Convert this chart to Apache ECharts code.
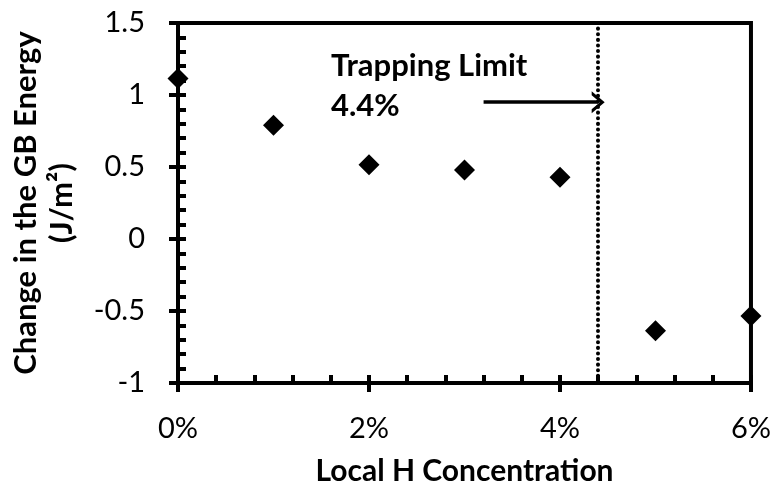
<!DOCTYPE html>
<html>
<head>
<meta charset="utf-8">
<script src="https://cdn.jsdelivr.net/npm/echarts@6/dist/echarts.min.js"></script>
<style>
  html, body { margin: 0; padding: 0; background: #fff; }
  #chart { width: 774px; height: 491px; }
</style>
</head>
<body>
<div id="chart"></div>
<script>
// H concentration (%) and the resulting change in grain-boundary energy (J/m^2)
const concentration = [0, 1, 2, 3, 4, 5, 6];
const energyChange = [1.115, 0.79, 0.516, 0.48, 0.428, -0.638, -0.534];

// Trapping-limit annotation
const trappingLimit = 4.4;
const arrowStart = [3.2, 0.95];
const arrowEnd = [4.4, 0.95];
const annotationText = 'Trapping Limit\n4.4%';

const FONT = 'Lato, "Open Sans", sans-serif';
const LINE_W = 4;

const chart = echarts.init(document.getElementById('chart'), null, { renderer: 'canvas' });

const points = concentration.map((c, i) => [c, energyChange[i]]);

const axisLine = { show: true, onZero: false, lineStyle: { color: '#000', width: LINE_W } };
const hiddenLine = { show: false, onZero: false };
const tickStyle = { color: '#000', width: LINE_W };

chart.setOption({
  animation: false,
  backgroundColor: '#fff',
  grid: {
    left: 173, top: 23, right: 21, bottom: 107,
    show: true, borderColor: '#000', borderWidth: LINE_W, backgroundColor: 'transparent'
  },
  xAxis: [
    {
      type: 'value', min: 0, max: 6, interval: 2, position: 'bottom',
      axisLine: axisLine,
      axisTick: { show: true, inside: false, length: 9, lineStyle: tickStyle },
      axisLabel: { formatter: '{value}%', color: '#000', fontFamily: FONT, fontSize: 29, margin: 31 },
      splitLine: { show: false },
      name: 'Local H Concentration', nameLocation: 'middle', nameGap: 73,
      nameTextStyle: { color: '#000', fontFamily: FONT, fontSize: 30, fontWeight: 'bold' }
    },
    {
      type: 'value', min: 0, max: 6, interval: 0.4, position: 'bottom',
      axisLine: hiddenLine,
      axisTick: { show: true, inside: true, length: 8, lineStyle: tickStyle },
      axisLabel: { show: false },
      splitLine: { show: false }
    }
  ],
  yAxis: [
    {
      type: 'value', min: -1, max: 1.5, interval: 0.5, position: 'left',
      axisLine: axisLine,
      axisTick: { show: true, inside: false, length: 9, lineStyle: tickStyle },
      axisLabel: { color: '#000', fontFamily: FONT, fontSize: 29, margin: 33 },
      splitLine: { show: false },
      name: 'Change in the GB Energy\n(J/m²)', nameLocation: 'middle', nameGap: 98, nameRotate: 90,
      nameTextStyle: { color: '#000', fontFamily: FONT, fontSize: 31, fontWeight: 'bold', lineHeight: 36 }
    },
    {
      type: 'value', min: -1, max: 1.5, interval: 0.1, position: 'left',
      axisLine: hiddenLine,
      axisTick: { show: true, inside: true, length: 8, lineStyle: tickStyle },
      axisLabel: { show: false },
      splitLine: { show: false }
    }
  ],
  series: [
    {
      type: 'scatter',
      xAxisIndex: 0, yAxisIndex: 0,
      data: points,
      symbol: 'diamond',
      symbolSize: 21,
      itemStyle: { color: '#000', opacity: 1 },
      clip: false,
      z: 5,
      markLine: {
        silent: true,
        animation: false,
        symbol: ['none', 'none'],
        label: { show: false },
        data: [
          [
            { coord: [trappingLimit, 1.5], symbol: 'none',
              lineStyle: { color: '#000', width: 4, type: [0.1, 5.5], cap: 'round', opacity: 1 } },
            { coord: [trappingLimit, -1], symbol: 'none' }
          ],
          [
            { coord: arrowStart, symbol: 'none',
              lineStyle: { color: '#000', width: 3.5, type: 'solid', opacity: 1 } },
            { coord: arrowEnd,
              symbol: 'path://M0,10 L5,0 L10,10 L8.2,10 L5,3.6 L1.8,10 Z',
              symbolSize: [22, 13] }
          ]
        ]
      }
    }
  ],
  graphic: [
    {
      type: 'text', left: 331, top: 46, z: 10,
      style: { text: annotationText, fill: '#000', font: 'bold 31px ' + FONT, lineHeight: 40 }
    }
  ]
});
</script>
</body>
</html>
